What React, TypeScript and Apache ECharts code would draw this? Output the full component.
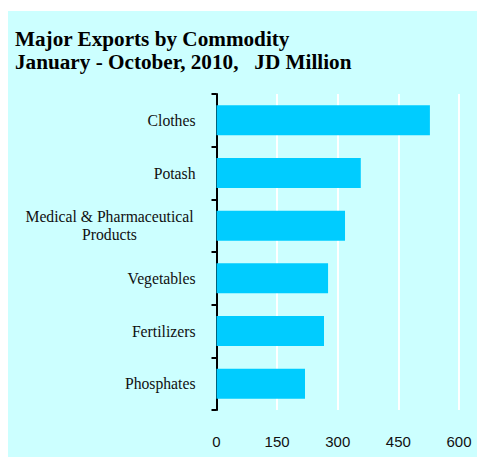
import React, { useEffect, useRef } from "react";
import * as echarts from "echarts";

const titleLines = ["Major Exports by Commodity", "January - October, 2010,   JD Million"];
const categories = ["Clothes", "Potash", "Medical & Pharmaceutical\nProducts", "Vegetables", "Fertilizers", "Phosphates"];
const values = [528, 357, 318, 276, 266, 219];
const axisMin = 0;
const axisMax = 600;
const axisInterval = 150;

export default function App() {
  const ref = useRef<HTMLDivElement>(null);
  useEffect(() => {
    if (!ref.current) return;
    const chart = echarts.init(ref.current, null, { renderer: "svg" });
    chart.setOption({
      animation: false,
      backgroundColor: "#CCFFFF",
      title: {
        text: titleLines.join("\n"),
        left: 2,
        top: 11,
        textStyle: {
          fontFamily: "Liberation Serif",
          fontWeight: "bold",
          fontSize: 21.2,
          lineHeight: 23,
          color: "#000",
        },
      },
      grid: { left: 208.5, top: 83, width: 242.5, height: 316 },
      xAxis: {
        type: "value",
        min: axisMin,
        max: axisMax,
        interval: axisInterval,
        axisLine: { show: false },
        axisTick: { show: false },
        splitLine: { show: true, lineStyle: { color: "#FFFFFF", width: 2 } },
        axisLabel: {
          margin: 24,
          fontFamily: "Liberation Sans",
          fontSize: 15,
          color: "#111",
        },
      },
      yAxis: {
        type: "category",
        inverse: true,
        data: categories,
        axisLine: { show: true, lineStyle: { color: "#000", width: 2 } },
        axisTick: { show: true, length: 5, lineStyle: { color: "#000", width: 2 } },
        axisLabel: {
          margin: 21,
          fontFamily: "Liberation Serif",
          fontSize: 15.7,
          lineHeight: 17.5,
          color: "#111",
          formatter: (v: string) => {
            if (v.indexOf("\n") >= 0) {
              return v
                .split("\n")
                .map((s) => "{c|" + s + "}")
                .join("\n");
            }
            return v;
          },
          rich: {
            c: {
              width: 172,
              align: "center",
              fontFamily: "Liberation Serif",
              fontSize: 15.7,
              lineHeight: 17.5,
              color: "#111",
            },
          },
        },
      },
      series: [
        {
          type: "bar",
          data: values,
          barCategoryGap: "43%",
          itemStyle: { color: "#00CCFF" },
        },
      ],
    });
    return () => chart.dispose();
  }, []);
  return (
    <div
      ref={ref}
      style={{ position: "absolute", left: 8, top: 11, width: 469, height: 446 }}
    />
  );
}
